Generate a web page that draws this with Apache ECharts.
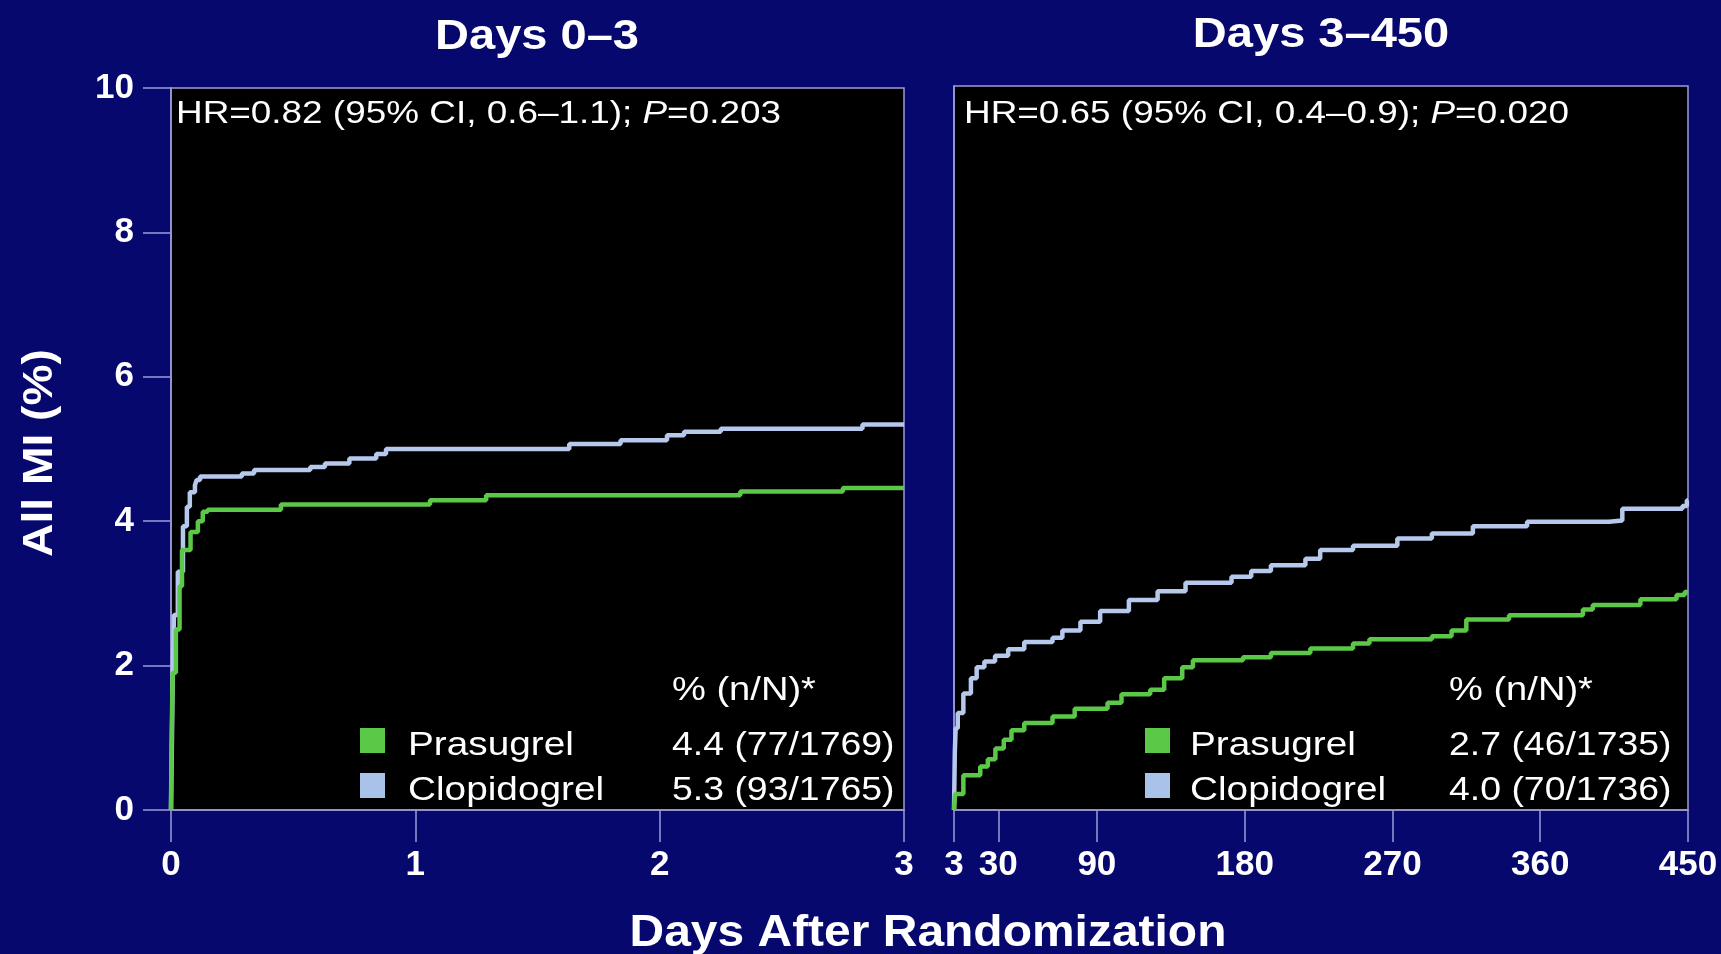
<!DOCTYPE html>
<html>
<head>
<meta charset="utf-8">
<title>All MI – Prasugrel vs Clopidogrel</title>
<script src="https://cdn.jsdelivr.net/npm/echarts@6/dist/echarts.min.js"></script>
<style>
  html, body { margin: 0; padding: 0; background: #06086e; }
  #chart { width: 1721px; height: 954px; }
</style>
</head>
<body>
<div id="chart"></div>
<script>
// ---- Data ---------------------------------------------------------------
const panelTitles = ['Days 0\u20133', 'Days 3\u2013450'];
const hrTexts = [
  'HR=0.82 (95% CI, 0.6\u20131.1); {i|P}=0.203',
  'HR=0.65 (95% CI, 0.4\u20130.9); {i|P}=0.020'
];
const seriesNames = ['Prasugrel', 'Clopidogrel'];
const rateHeader = '% (n/N)*';
const earlyRates = ['4.4 (77/1769)', '5.3 (93/1765)'];
const lateRates = ['2.7 (46/1735)', '4.0 (70/1736)'];
const yAxisTitle = 'All MI (%)';
const xAxisTitle = 'Days After Randomization';

const earlyXTicks = [0, 1, 2, 3];
const lateXTicks = [3, 30, 90, 180, 270, 360, 450];
const yTicks = [0, 2, 4, 6, 8, 10];

// cumulative incidence, days 0-3: [day, %]
const earlyPrasugrel = [
  [0, 0], [0.002, 0.9], [0.007, 1.9], [0.02, 2.5], [0.035, 3.1], [0.045, 3.6],
  [0.08, 3.85], [0.11, 4.0], [0.13, 4.13], [0.15, 4.16], [0.45, 4.23],
  [1.06, 4.29], [1.29, 4.36], [2.33, 4.41], [2.75, 4.46], [3.0, 4.46]
];
const earlyClopidogrel = [
  [0, 0], [0.004, 1.0], [0.007, 1.85], [0.012, 2.7], [0.028, 3.3], [0.049, 3.93],
  [0.065, 4.2], [0.077, 4.4], [0.098, 4.5], [0.105, 4.57], [0.119, 4.62],
  [0.29, 4.66], [0.34, 4.71], [0.57, 4.75], [0.63, 4.8], [0.73, 4.87],
  [0.84, 4.93], [0.88, 5.0], [1.63, 5.07], [1.84, 5.12], [2.03, 5.19],
  [2.1, 5.24], [2.25, 5.28], [2.83, 5.34], [3.0, 5.34]
];
// cumulative incidence, days 3-450: [day, %]
const latePrasugrel = [
  [3, 0], [3.7, 0.22], [8.7, 0.48], [19, 0.6], [23.6, 0.7], [28.2, 0.85],
  [33.3, 0.97], [38, 1.1], [45.8, 1.2], [63, 1.29], [76.5, 1.4], [96.5, 1.48],
  [105, 1.6], [122.5, 1.66], [131, 1.82], [142, 1.97], [148.5, 2.07],
  [179, 2.11], [196, 2.17], [220, 2.23], [246, 2.3], [256, 2.36], [294, 2.4],
  [306, 2.48], [315, 2.63], [341, 2.69], [386, 2.77], [392, 2.83],
  [421, 2.91], [443, 2.97], [448, 3.01], [450, 3.01]
];
const lateClopidogrel = [
  [3, 0], [3.5, 0.8], [4, 1.13], [5.3, 1.34], [8.7, 1.61], [13.3, 1.82],
  [16.8, 1.97], [21.5, 2.05], [28, 2.13], [36, 2.22], [45.8, 2.32],
  [63, 2.38], [69, 2.48], [80, 2.6], [92, 2.75], [109.5, 2.9], [127, 3.02],
  [144, 3.14], [172, 3.22], [184, 3.3], [196, 3.38], [217, 3.47],
  [226, 3.59], [246, 3.65], [273, 3.75], [294, 3.82], [319, 3.92],
  [352, 3.98], [402, 4.0], [410, 4.16], [446.6, 4.2], [449.3, 4.28], [450, 4.28]
];

// ---- Styling ------------------------------------------------------------
const FONT = '"Liberation Sans", Arial, Helvetica, sans-serif';
const AXIS_COLOR = '#9c9cd8';
const GREEN = '#5cc848';
const BLUE = '#b6c8ec';
const LEGEND_COLORS = ['#5cc848', '#a9c2ea'];

const chart = echarts.init(document.getElementById('chart'), null, { renderer: 'canvas' });

function gridDef(left, right, top) {
  return {
    left: left, right: right, top: top, bottom: 144,
    show: true, backgroundColor: '#000000',
    borderColor: AXIS_COLOR, borderWidth: 1.5,
    containLabel: false, outerBoundsMode: 'none'
  };
}

const tickLabelStyle = {
  color: '#ffffff', fontFamily: FONT, fontWeight: 'bold', fontSize: 35
};

function textEl(x, y, text, opts) {
  opts = opts || {};
  const align = opts.align || 'left';
  return {
    type: 'text', x: x, y: y,
    rotation: opts.rotation || 0,
    scaleX: opts.scaleX || 1,
    silent: true,
    style: {
      text: text,
      fill: '#ffffff',
      fontFamily: FONT,
      fontSize: opts.fontSize || 34,
      fontWeight: opts.bold ? 'bold' : 'normal',
      textAlign: align, align: align,
      textVerticalAlign: 'middle', verticalAlign: 'middle',
      rich: opts.rich
    }
  };
}

// rate table: header, coloured squares, treatment names and rates
function legendBlock(squareX, labelX, valueX, rates) {
  const els = [textEl(valueX, 691, rateHeader, { scaleX: 1.12 })];
  const rowY = [746, 791];
  seriesNames.forEach(function (name, i) {
    els.push({
      type: 'rect', silent: true,
      shape: { x: squareX, y: rowY[i] - 18, width: 25, height: 25 },
      style: { fill: LEGEND_COLORS[i] }
    });
    els.push(textEl(labelX, rowY[i], name, { scaleX: 1.14 }));
    els.push(textEl(valueX, rowY[i], rates[i], { scaleX: 1.1 }));
  });
  return els;
}

const richItalic = {
  i: { fontStyle: 'italic', fontFamily: FONT, fontSize: 31, fill: '#ffffff', color: '#ffffff' }
};

const graphics = [
  textEl(537, 37, panelTitles[0], { align: 'center', bold: true, fontSize: 42, scaleX: 1.12 }),
  textEl(1321, 35, panelTitles[1], { align: 'center', bold: true, fontSize: 42, scaleX: 1.12 }),
  textEl(176, 114, hrTexts[0], { fontSize: 31, scaleX: 1.19, rich: richItalic }),
  textEl(964, 114, hrTexts[1], { fontSize: 31, scaleX: 1.19, rich: richItalic }),
  textEl(928, 934, xAxisTitle, { align: 'center', bold: true, fontSize: 44, scaleX: 1.09 }),
  textEl(40, 453, yAxisTitle, { align: 'center', bold: true, fontSize: 42, scaleX: 1.1, rotation: Math.PI / 2 })
].concat(
  legendBlock(360, 408, 672, earlyRates),
  legendBlock(1145, 1190, 1449, lateRates)
);

function kmSeries(name, data, color, idx) {
  return {
    name: name, type: 'line', step: 'end',
    xAxisIndex: idx, yAxisIndex: idx,
    data: data, showSymbol: false, symbol: 'none',
    lineStyle: { color: color, width: 4.5 },
    itemStyle: { color: color },
    z: name === seriesNames[0] ? 3 : 2,
    animation: false
  };
}

const option = {
  backgroundColor: '#06086e',
  animation: false,
  grid: [gridDef(171, 817, 88), gridDef(954, 33, 86)],
  xAxis: [
    {
      gridIndex: 0, type: 'value', min: earlyXTicks[0], max: earlyXTicks[earlyXTicks.length - 1], interval: 1,
      splitLine: { show: false },
      axisLine: { show: true, lineStyle: { color: AXIS_COLOR, width: 1.5 } },
      axisTick: { show: true, inside: false, length: 32, lineStyle: { color: AXIS_COLOR, width: 1.5 } },
      axisLabel: Object.assign({ margin: 38, showMinLabel: true, showMaxLabel: true }, tickLabelStyle)
    },
    {
      gridIndex: 1, type: 'value', min: lateXTicks[0], max: lateXTicks[lateXTicks.length - 1],
      splitLine: { show: false },
      axisLine: { show: true, lineStyle: { color: AXIS_COLOR, width: 1.5 } },
      axisTick: { show: true, inside: false, length: 32, customValues: lateXTicks, lineStyle: { color: AXIS_COLOR, width: 1.5 } },
      axisLabel: Object.assign({ margin: 38, customValues: lateXTicks }, tickLabelStyle)
    }
  ],
  yAxis: [
    {
      gridIndex: 0, type: 'value', min: yTicks[0], max: yTicks[yTicks.length - 1], interval: 2,
      splitLine: { show: false },
      axisLine: { show: true, lineStyle: { color: AXIS_COLOR, width: 1.5 } },
      axisTick: { show: true, inside: false, length: 28, lineStyle: { color: AXIS_COLOR, width: 1.5 } },
      axisLabel: Object.assign({ margin: 37 }, tickLabelStyle)
    },
    {
      gridIndex: 1, type: 'value', min: yTicks[0], max: yTicks[yTicks.length - 1], interval: 2,
      splitLine: { show: false },
      axisLine: { show: true, lineStyle: { color: AXIS_COLOR, width: 1.5 } },
      axisTick: { show: false },
      axisLabel: { show: false }
    }
  ],
  series: [
    kmSeries(seriesNames[1], earlyClopidogrel, BLUE, 0),
    kmSeries(seriesNames[0], earlyPrasugrel, GREEN, 0),
    kmSeries(seriesNames[1], lateClopidogrel, BLUE, 1),
    kmSeries(seriesNames[0], latePrasugrel, GREEN, 1)
  ],
  graphic: { elements: graphics }
};

chart.setOption(option);
</script>
</body>
</html>
